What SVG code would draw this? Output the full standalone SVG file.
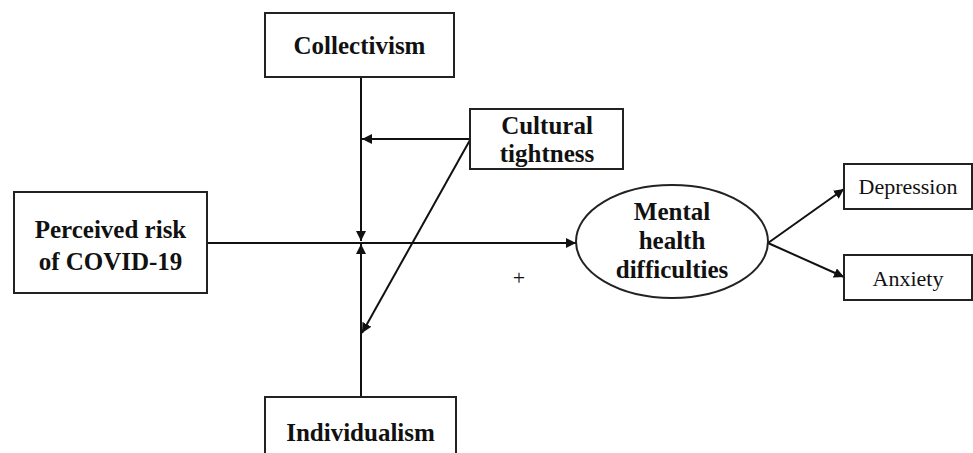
<svg xmlns="http://www.w3.org/2000/svg" width="973" height="453" viewBox="0 0 973 453">
<defs>
<marker id="ah" viewBox="0 0 10 10" refX="10" refY="5" markerWidth="5" markerHeight="5" orient="auto" markerUnits="strokeWidth">
<path d="M0,0 L10,5 L0,10 z" fill="#111"/>
</marker>
<style>
.box{fill:#fff;stroke:#222;stroke-width:2}
.b{font-family:"Liberation Serif",serif;font-weight:bold;font-size:25px;fill:#111;text-anchor:middle}
.r{font-family:"Liberation Serif",serif;font-size:22px;fill:#111;text-anchor:middle}
.ln{stroke:#111;stroke-width:2;fill:none}
</style>
</defs>
<rect width="973" height="453" fill="#fff"/>
<g id="connectors">
<line class="ln" x1="361" y1="77" x2="361" y2="241" marker-end="url(#ah)"/>
<line class="ln" x1="361" y1="397" x2="361" y2="244" marker-end="url(#ah)"/>
<line class="ln" x1="207" y1="243" x2="576" y2="243" marker-end="url(#ah)"/>
<line class="ln" x1="470" y1="139" x2="362" y2="139" marker-end="url(#ah)"/>
<line class="ln" x1="470" y1="140" x2="362" y2="333" marker-end="url(#ah)"/>
<line class="ln" x1="768" y1="243" x2="844" y2="189" marker-end="url(#ah)"/>
<line class="ln" x1="768" y1="243" x2="844" y2="277" marker-end="url(#ah)"/>
</g>
<g id="collectivism">
<rect class="box" x="265" y="13" width="189" height="64"/>
<text class="b" x="359.5" y="54">Collectivism</text>
</g>
<g id="cultural-tightness">
<rect class="box" x="470" y="109" width="153" height="60"/>
<text class="b" x="547" y="134">Cultural</text>
<text class="b" x="547" y="162">tightness</text>
</g>
<g id="perceived-risk">
<rect class="box" x="14" y="192" width="193" height="101"/>
<text class="b" x="110.5" y="238">Perceived risk</text>
<text class="b" x="110.5" y="270">of COVID-19</text>
</g>
<g id="individualism">
<rect class="box" x="265" y="397" width="191" height="70"/>
<text class="b" x="360.5" y="441">Individualism</text>
</g>
<g id="mental-health">
<ellipse class="box" cx="672" cy="241.5" rx="96" ry="56.5"/>
<text class="b" x="672" y="220">Mental</text>
<text class="b" x="672" y="249">health</text>
<text class="b" x="672" y="278">difficulties</text>
</g>
<g id="depression">
<rect class="box" x="844" y="164" width="128" height="45"/>
<text class="r" x="908" y="194">Depression</text>
</g>
<g id="anxiety">
<rect class="box" x="844" y="255" width="128" height="45"/>
<text class="r" x="908" y="286">Anxiety</text>
</g>
<text class="r" x="519" y="285">+</text>
</svg>
